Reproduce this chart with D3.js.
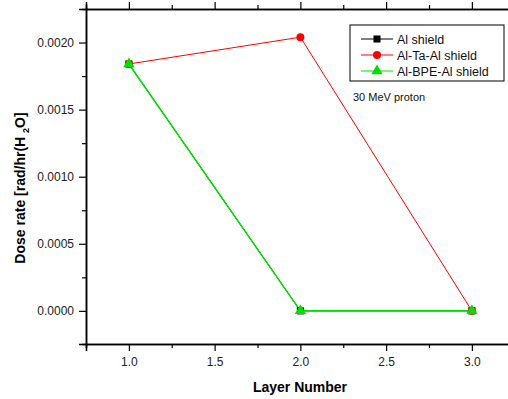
<!DOCTYPE html>
<html>
<head>
<meta charset="utf-8">
<script src="https://cdn.jsdelivr.net/npm/d3@7"></script>
<style>
  body { margin: 0; background: #fff; }
  svg { font-family: "Liberation Sans", Arial, sans-serif; }
</style>
</head>
<body>
<div id="chart"></div>
<script>
// Data
const layers = [1.0, 2.0, 3.0];
const alShield = [0.00184, 0.0, 0.0];
const alTaAlShield = [0.00184, 0.00204, 0.0];
const alBpeAlShield = [0.00184, 0.0, 0.0];
const seriesNames = ["Al shield", "Al-Ta-Al shield", "Al-BPE-Al shield"];
const xTicks = [1.0, 1.5, 2.0, 2.5, 3.0];
const yTicks = [0.0, 0.0005, 0.0010, 0.0015, 0.0020];

const width = 508, height = 399;
const plot = { left: 86, top: 9, bottom: 344 };

const svg = d3.select("#chart").append("svg")
    .attr("width", width)
    .attr("height", height);

const xScale = d3.scaleLinear().domain([0.75, 3.25]).range([plot.left, plot.left + 2.5 * 171.5]);
const yScale = d3.scaleLinear().domain([-0.000247, 0.00225]).range([plot.bottom, plot.top]);

const series = [
    { name: seriesNames[0], values: alShield, color: "#000000", shape: d3.symbolSquare, size: 50, lw: 1 },
    { name: seriesNames[1], values: alTaAlShield, color: "#ff0000", shape: d3.symbolCircle, size: 50, lw: 1 },
    { name: seriesNames[2], values: alBpeAlShield, color: "#00e000", shape: d3.symbolTriangle, size: 55, lw: 1.5 }
];

// Minor ticks every 0.25 on x, 0.00025 on y
const xMinor = d3.range(0.75, 3.26, 0.25).filter(v => !xTicks.some(t => Math.abs(t - v) < 1e-6));
const yMinor = d3.range(-0.00025, 0.00226, 0.0005).map(v => v + 0.0005).filter(v => v < 0.00224);

// Axes
const axisColor = "#000";
const bottomAxis = svg.append("g").attr("transform", `translate(0,${plot.bottom})`)
    .call(d3.axisBottom(xScale).tickValues(xTicks).tickSize(7).tickPadding(6).tickFormat(d3.format(".1f")));
svg.append("g").attr("transform", `translate(0,${plot.bottom})`)
    .call(d3.axisBottom(xScale).tickValues(xMinor).tickSize(4).tickFormat(""));

svg.append("g").attr("transform", `translate(0,${plot.top})`)
    .call(d3.axisTop(xScale).tickValues(xTicks).tickSize(7).tickFormat(""));
svg.append("g").attr("transform", `translate(0,${plot.top})`)
    .call(d3.axisTop(xScale).tickValues(xMinor).tickSize(4).tickFormat(""));

svg.append("g").attr("transform", `translate(${plot.left},0)`)
    .call(d3.axisLeft(yScale).tickValues(yTicks).tickSize(7).tickPadding(5).tickFormat(d3.format(".4f")));
svg.append("g").attr("transform", `translate(${plot.left},0)`)
    .call(d3.axisLeft(yScale).tickValues(yMinor).tickSize(4).tickFormat(""));

svg.selectAll(".domain").attr("stroke", axisColor).attr("stroke-width", 1.5);
svg.selectAll(".tick line").attr("stroke", axisColor).attr("stroke-width", 1.2);
svg.selectAll(".tick text").attr("font-size", 12).attr("fill", "#222")
    .attr("font-family", "'Liberation Sans', Arial, sans-serif");

// Lines and markers
const line = d3.line().x((d, i) => xScale(layers[i])).y(d => yScale(d));

series.forEach(s => {
    svg.append("path")
        .datum(s.values)
        .attr("fill", "none")
        .attr("stroke", s.color)
        .attr("stroke-width", s.lw)
        .attr("d", line);
});
series.forEach(s => {
    svg.append("g").selectAll("path")
        .data(s.values)
        .join("path")
        .attr("transform", (d, i) => `translate(${xScale(layers[i])},${yScale(d)})`)
        .attr("d", d3.symbol().type(s.shape).size(s.size))
        .attr("fill", s.color);
});

// Legend
const legend = svg.append("g").attr("transform", "translate(350,25)");
legend.append("rect")
    .attr("width", 154).attr("height", 56)
    .attr("fill", "#fff").attr("stroke", "#000").attr("stroke-width", 1);
series.forEach((s, i) => {
    const ly = 14 + i * 16;
    legend.append("line")
        .attr("x1", 11).attr("x2", 43).attr("y1", ly).attr("y2", ly)
        .attr("stroke", s.color).attr("stroke-width", 1);
    legend.append("path")
        .attr("transform", `translate(27,${ly})`)
        .attr("d", d3.symbol().type(s.shape).size(s.size))
        .attr("fill", s.color);
    legend.append("text")
        .attr("x", 47).attr("y", ly + 4.5)
        .attr("font-size", 12.5).attr("fill", "#111")
        .text(s.name);
});

// Annotation
svg.append("text")
    .attr("x", 353).attr("y", 101)
    .attr("font-size", 11).attr("fill", "#111")
    .text("30 MeV proton");

// Axis titles
svg.append("text")
    .attr("x", 300).attr("y", 392)
    .attr("text-anchor", "middle")
    .attr("font-size", 14).attr("font-weight", "bold")
    .text("Layer Number");

const yTitle = svg.append("text")
    .attr("transform", "translate(25,188) rotate(-90)")
    .attr("text-anchor", "middle")
    .attr("font-size", 14).attr("font-weight", "bold");
yTitle.append("tspan").text("Dose rate [rad/hr(H ");
yTitle.append("tspan").attr("font-size", 9).attr("dy", 4).text("2");
yTitle.append("tspan").attr("dy", -4).text("O]");
</script>
</body>
</html>
